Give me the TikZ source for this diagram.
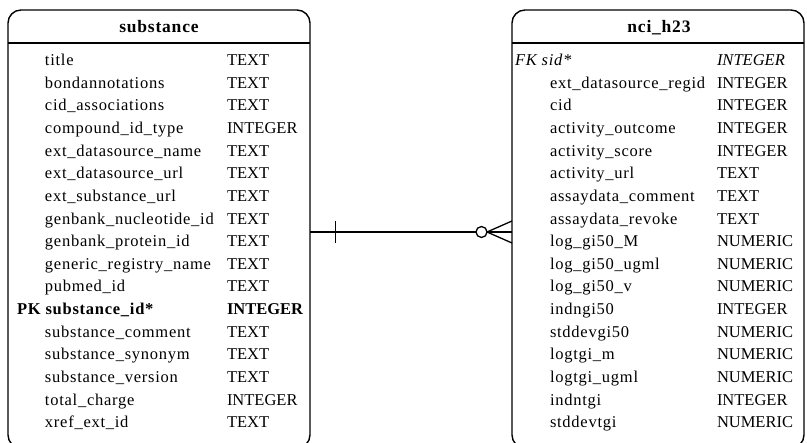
\documentclass[tikz,border=0pt]{standalone}
\usepackage{fontspec}
\setmainfont{Liberation Serif}
% slightly opened spacing for the column names
\newfontfamily\namefont[LetterSpace=4.5]{Liberation Serif}
\begin{document}
\begin{tikzpicture}[x=1pt,y=-1pt,
  tablebox/.style={draw=black,line width=1.4pt,rounded corners=13pt},
  sepline/.style={draw=black,line width=1.4pt},
  rel/.style={draw=black,line width=1.3pt},
  cell/.style={anchor=base west,inner sep=0pt,outer sep=0pt,font=\fontsize{16.5}{18}\selectfont},
  namecell/.style={cell,font=\fontsize{16.5}{18}\selectfont\namefont},
  head/.style={anchor=base,inner sep=0pt,font=\fontsize{17.5}{19}\selectfont\namefont\bfseries}]
\useasboundingbox (0,0) rectangle (807,443);
\clip (0,0) rectangle (807,443);

% table frames
\draw[tablebox] (8,10) rectangle (310,448);
\draw[sepline] (8,43) -- (310,43);
\draw[tablebox] (512,10) rectangle (804,448);
\draw[sepline] (512,43) -- (804,43);

\coordinate (sR) at (310,232);
\coordinate (nL) at (512,232);

% headers
\node[head] (shead) at (159,33) {substance};
\node[head] (nhead) at (659,33) {nci\_h23};

% substance columns
\foreach \nm/\ty [count=\i] in {title/TEXT, bondannotations/TEXT, cid\_associations/TEXT,
    compound\_id\_type/INTEGER, ext\_datasource\_name/TEXT, ext\_datasource\_url/TEXT,
    ext\_substance\_url/TEXT, genbank\_nucleotide\_id/TEXT, genbank\_protein\_id/TEXT,
    generic\_registry\_name/TEXT, pubmed\_id/TEXT, {}/{}, substance\_comment/TEXT,
    substance\_synonym/TEXT, substance\_version/TEXT, total\_charge/INTEGER, xref\_ext\_id/TEXT}{
  \pgfmathsetmacro{\yb}{65.5+22.65*(\i-1)}
  \ifnum\i=12
    \node[cell,font=\fontsize{16.5}{18}\selectfont\namefont\bfseries] (sn\i) at (17,\yb) {PK substance\_id*};
    \node[cell,font=\fontsize{16.5}{18}\selectfont\bfseries] (st\i) at (227,\yb) {INTEGER};
  \else
    \node[namecell] (sn\i) at (45,\yb) {\nm};
    \node[cell] (st\i) at (227,\yb) {\ty};
  \fi
}

% nci_h23 columns
\foreach \nm/\ty [count=\i] in {{}/{}, ext\_datasource\_regid/INTEGER, cid/INTEGER,
    activity\_outcome/INTEGER, activity\_score/INTEGER, activity\_url/TEXT,
    assaydata\_comment/TEXT, assaydata\_revoke/TEXT, log\_gi50\_M/NUMERIC,
    log\_gi50\_ugml/NUMERIC, log\_gi50\_v/NUMERIC, indngi50/INTEGER, stddevgi50/NUMERIC,
    logtgi\_m/NUMERIC, logtgi\_ugml/NUMERIC, indntgi/INTEGER, stddevtgi/NUMERIC}{
  \pgfmathsetmacro{\yb}{65.5+22.65*(\i-1)}
  \ifnum\i=1
    \node[cell,font=\fontsize{16.5}{18}\selectfont\namefont\itshape] (nn\i) at (515,\yb) {FK sid*};
    \node[cell,font=\fontsize{16.5}{18}\selectfont\itshape] (nt\i) at (717,\yb) {INTEGER};
  \else
    \node[namecell] (nn\i) at (550,\yb) {\nm};
    \node[cell] (nt\i) at (717,\yb) {\ty};
  \fi
}

% relationship: one (bar) to zero-or-many (circle + crow's foot)
\draw[rel] (sR) -- (nL);
\draw[rel] ([xshift=25.5pt]sR) ++(0,-11) -- ++(0,22);
\draw[rel,fill=white] ([xshift=-30.5pt]nL) circle[radius=5.5];
\draw[rel] ([xshift=-25pt]nL) -- ([yshift=-11pt]nL);
\draw[rel] ([xshift=-25pt]nL) -- ([yshift=11pt]nL);
\end{tikzpicture}
\end{document}
